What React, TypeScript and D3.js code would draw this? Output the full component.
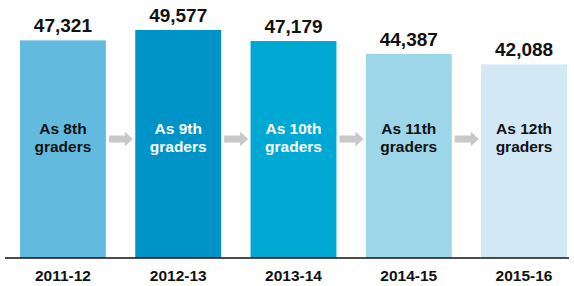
import React from "react";
import * as d3 from "d3";

const years = ["2011-12", "2012-13", "2013-14", "2014-15", "2015-16"];
const students = [47321, 49577, 47179, 44387, 42088];
const gradeLines = [
  ["As 8th", "graders"],
  ["As 9th", "graders"],
  ["As 10th", "graders"],
  ["As 11th", "graders"],
  ["As 12th", "graders"],
];
const barColors = ["#62bbdf", "#0093c8", "#00a9d3", "#9dd5e9", "#d2e8f4"];
const labelColors = ["#111", "#fff", "#fff", "#111", "#111"];

const W = 574;
const H = 286;
const FONT = "'Liberation Sans', Arial, sans-serif";

export default function App() {
  const x = d3.scaleBand().domain(years).range([5, 582]).paddingInner(0.255).paddingOuter(0.13);
  const y = d3
    .scaleLinear()
    .domain([0, d3.max(students) as number])
    .range([258, 30]);
  const fmt = d3.format(",");
  const bw = x.bandwidth();

  return (
    <svg
      width={W}
      height={H}
      style={{ position: "absolute", left: 0, top: 0, fontFamily: FONT }}
    >
      <rect width={W} height={H} fill="#fff" />
      {years.map((yr, i) => {
        const x0 = x(yr) as number;
        const cx = x0 + bw / 2;
        return (
          <g key={yr}>
            <rect x={x0} y={y(students[i])} width={bw} height={y(0) - y(students[i])} fill={barColors[i]} />
            <text x={cx} y={y(students[i]) - 8} textAnchor="middle" fontSize={19} fontWeight="bold" fill="#111">
              {fmt(students[i])}
            </text>
            {gradeLines[i].map((t, j) => (
              <text key={j} x={cx} y={133.5 + j * 18.5} textAnchor="middle" fontSize={15.5} fontWeight="bold" fill={labelColors[i]}>
                {t}
              </text>
            ))}
            <text x={cx} y={280.5} textAnchor="middle" fontSize={15.5} fontWeight="bold" fill="#111">
              {yr}
            </text>
            {i < years.length - 1 && (
              <path
                transform={`translate(${x0 + bw + 3},139)`}
                d="M0,-3.5 H16 V-7.5 L24,0 L16,7.5 V3.5 H0 Z"
                fill="#c8c8c8"
              />
            )}
          </g>
        );
      })}
      <line x1={5} x2={569} y1={258} y2={258} stroke="#111" strokeWidth={1.5} />
    </svg>
  );
}
